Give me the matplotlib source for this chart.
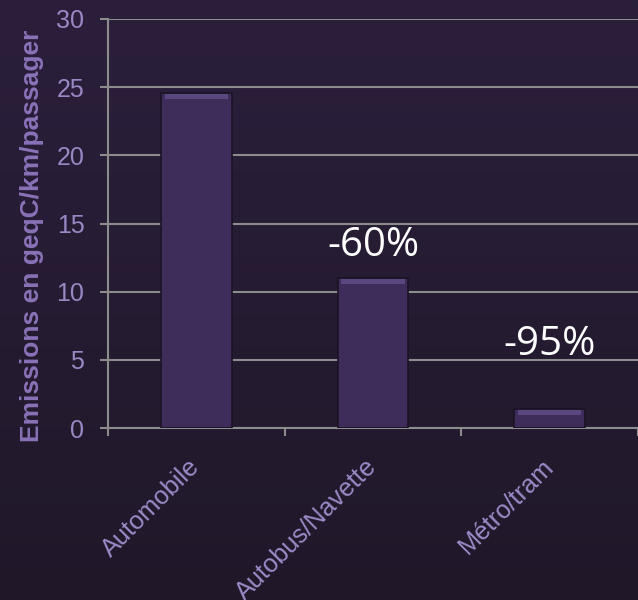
import numpy as np
import matplotlib.pyplot as plt
from matplotlib.colors import LinearSegmentedColormap

categories = ['Automobile', 'Autobus/Navette', 'Métro/tram']
emissions = [24.6, 11.0, 1.4]
reductions = ['', '-60%', '-95%']
label_heights = [0, 13.4, 6.1]

fig = plt.figure(figsize=(6.38, 6.0), dpi=100)

# fond degrade violet
bg = fig.add_axes([0, 0, 1, 1], zorder=-10)
grad = np.linspace(0, 1, 256).reshape(-1, 1)
cmap = LinearSegmentedColormap.from_list('bg', ['#2b1f3c', '#201829'])
bg.imshow(grad, aspect='auto', cmap=cmap, extent=[0, 1, 0, 1])
bg.axis('off')

ax = fig.add_axes([108/638, 1 - 428/600, 530/638, 409/600])
ax.set_facecolor('none')

x = np.arange(len(categories))
ax.bar(x, emissions, width=0.4, color='#3e2d5b', edgecolor='#1a1324', linewidth=1.2, zorder=3)
# petit biseau clair en haut des barres
bevel = [0.35] * len(emissions)
ax.bar(x, bevel, width=0.36, bottom=np.array(emissions) - 0.45, color='#5a4780', linewidth=0, zorder=4)

for xi, txt, h in zip(x, reductions, label_heights):
    if txt:
        ax.text(xi, h, txt, ha='center', va='center', color='white',
                fontsize=29, family='Open Sans', zorder=5)

ax.set_xlim(-0.5, 2.5)
ax.set_ylim(0, 30)
ax.set_yticks(range(0, 31, 5))
ax.yaxis.grid(True, color='#8c8c8c', linewidth=1.5, zorder=0)
ax.set_axisbelow(True)

ax.set_xticks(x)
ax.set_xticklabels(categories, rotation=45, ha='right', va='center', rotation_mode='anchor',
                   color='#9c8ac8', fontsize=18.3, family='Liberation Sans')
ax.set_xticks([-0.5, 0.5, 1.5, 2.5], minor=True)
ax.tick_params(axis='x', which='major', length=0, pad=25)
ax.tick_params(axis='x', which='minor', length=6, width=1.5, color='#8c8c8c', direction='out')
ax.tick_params(axis='y', length=6, width=1.5, color='#8c8c8c', labelcolor='#9a88c4',
               labelsize=18, pad=11)
for lab in ax.get_yticklabels():
    lab.set_family('Liberation Sans')

for s in ['top', 'right']:
    ax.spines[s].set_visible(False)
ax.spines['left'].set_color('#8c8c8c')
ax.spines['left'].set_linewidth(1.5)
ax.spines['bottom'].set_color('#8c8c8c')
ax.spines['bottom'].set_linewidth(1.5)

ax.set_ylabel('Emissions en geqC/km/passager', color='#8a72b8', fontsize=19,
              fontweight='bold', family='Liberation Sans')
ax.yaxis.set_label_coords(-0.12, 0.47)

fig.savefig('out.png', dpi=100)
